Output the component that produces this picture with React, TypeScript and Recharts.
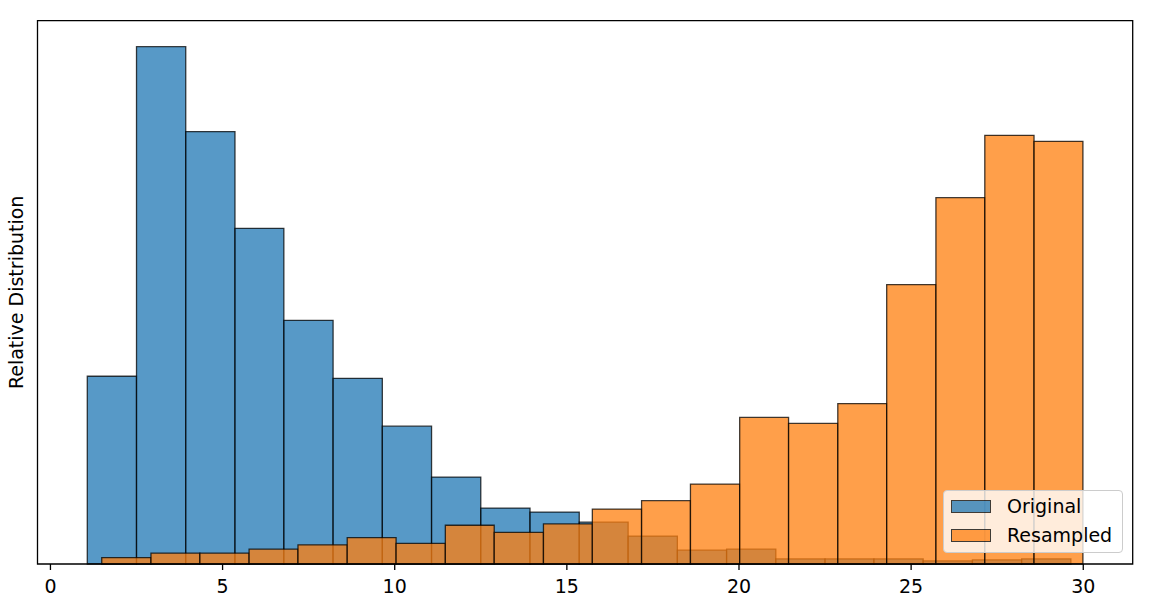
import { ComposedChart, XAxis, YAxis, ReferenceArea, Legend } from "recharts";

// bin edges and densities
const originalEdges = [1.07, 2.5, 3.93, 5.36, 6.78, 8.21, 9.64, 11.07, 12.5, 13.93, 15.36, 16.78, 18.21, 19.64, 21.07, 22.5, 23.92, 25.35, 26.78, 28.21, 29.64];
const originalValues = [0.0557, 0.1535, 0.1283, 0.0996, 0.0723, 0.0551, 0.0409, 0.0258, 0.0166, 0.0154, 0.0124, 0.0083, 0.0041, 0.0044, 0.0015, 0.0015, 0.0015, 0.0009, 0.0012, 0.0015];

const resampledEdges = [1.49, 2.92, 4.34, 5.77, 7.19, 8.62, 10.04, 11.47, 12.89, 14.32, 15.74, 17.17, 18.59, 20.02, 21.44, 22.87, 24.29, 25.72, 27.14, 28.57, 29.99];
const resampledValues = [0.0019, 0.0032, 0.0032, 0.0044, 0.0057, 0.0078, 0.0061, 0.0115, 0.0094, 0.0119, 0.0163, 0.0188, 0.0237, 0.0435, 0.0417, 0.0476, 0.0829, 0.1087, 0.1272, 0.1254];

const xTicks = [0, 5, 10, 15, 20, 25, 30];
const seriesNames = ["Original", "Resampled"];
const seriesColors = ["#1f77b4", "#ff7f0e"];

const X_DOMAIN: [number, number] = [-0.376, 31.436];
const Y_DOMAIN: [number, number] = [0, 0.1612];
const FONT = "'DejaVu Sans', sans-serif";

const toBins = (edges: number[], values: number[]) =>
  values.map((v, i) => ({ x1: edges[i], x2: edges[i + 1], v }));

const HistLegend = () => (
  <div
    style={{
      position: "relative",
      width: 180,
      height: 63,
      boxSizing: "border-box",
      border: "1px solid #cccccc",
      borderRadius: 4,
      background: "rgba(255,255,255,0.8)",
      fontFamily: FONT,
      fontSize: 19,
      color: "#000",
    }}
  >
    {seriesNames.map((name, i) => (
      <div key={name} style={{ position: "absolute", left: 0, top: 9 + i * 29, height: 13, width: "100%" }}>
        <span
          style={{
            position: "absolute",
            left: 7,
            top: 0,
            width: 40,
            height: 13,
            boxSizing: "border-box",
            background: seriesColors[i],
            opacity: 0.75,
            border: "1.3px solid #000",
          }}
        />
        <span style={{ position: "absolute", left: 63, top: 0, lineHeight: "13px", whiteSpace: "nowrap" }}>{name}</span>
      </div>
    ))}
  </div>
);

export default function App() {
  const original = toBins(originalEdges, originalValues);
  const resampled = toBins(resampledEdges, resampledValues);
  const rows = original.map((b) => ({ x: (b.x1 + b.x2) / 2, v: b.v }));

  return (
    <div style={{ position: "absolute", left: 0, top: 0, background: "#fff" }}>
      <ComposedChart width={1156} height={604} data={rows} margin={{ top: 20.7, right: 23.3, bottom: 0, left: 0 }}>
        <XAxis
          dataKey="x"
          type="number"
          domain={X_DOMAIN}
          ticks={xTicks}
          allowDataOverflow
          height={40}
          axisLine={false}
          tickLine={{ stroke: "#000", strokeWidth: 1.3 }}
          tickSize={6}
          tickMargin={10}
          tick={{ fill: "#000", fontSize: 19, fontFamily: FONT }}
        />
        <YAxis
          type="number"
          domain={Y_DOMAIN}
          allowDataOverflow
          width={37.5}
          tick={false}
          tickLine={false}
          axisLine={false}
          label={{ value: "Relative Distribution", angle: -90, position: "center", dx: -2, fill: "#000", fontSize: 19, fontFamily: FONT }}
        />
        {original.map((b, i) => (
          <ReferenceArea
            key={`o${i}`}
            x1={b.x1}
            x2={b.x2}
            y1={0}
            y2={b.v}
            ifOverflow="visible"
            fill={seriesColors[0]}
            fillOpacity={0.75}
            stroke="#000"
            strokeOpacity={0.75}
            strokeWidth={1.3}
          />
        ))}
        {resampled.map((b, i) => (
          <ReferenceArea
            key={`r${i}`}
            x1={b.x1}
            x2={b.x2}
            y1={0}
            y2={b.v}
            ifOverflow="visible"
            fill={seriesColors[1]}
            fillOpacity={0.75}
            stroke="#000"
            strokeOpacity={0.75}
            strokeWidth={1.3}
          />
        ))}
        <ReferenceArea
          x1={X_DOMAIN[0]}
          x2={X_DOMAIN[1]}
          y1={Y_DOMAIN[0]}
          y2={Y_DOMAIN[1]}
          ifOverflow="visible"
          fill="none"
          stroke="#000"
          strokeWidth={1.3}
        />
        <Legend
          layout="vertical"
          align="center"
          verticalAlign="middle"
          content={() => <HistLegend />}
          wrapperStyle={{ left: 943, top: 490, width: 180, height: 63 }}
        />
      </ComposedChart>
    </div>
  );
}
